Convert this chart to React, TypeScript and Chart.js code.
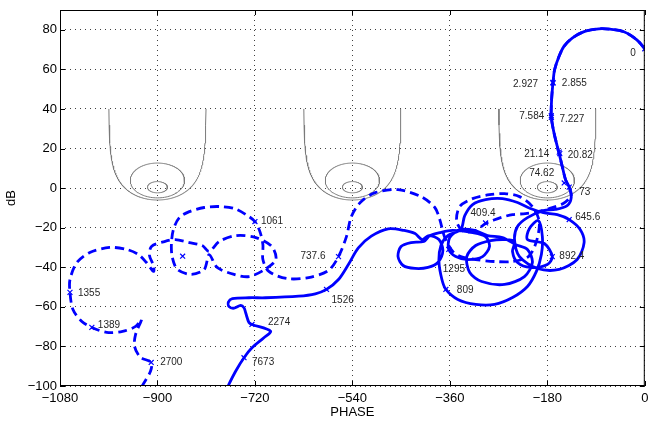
import { useEffect, useRef } from "react";
import { Chart, registerables } from "chart.js";

Chart.register(...registerables);

type P = [number, number];

// ---- axes ----
const phaseTicks = [-1080, -900, -720, -540, -360, -180, 0];
const gainTicks = [-100, -80, -60, -40, -20, 0, 20, 40, 60, 80];

// ---- Nichols grid (closed-loop magnitude contours) ----
const gridCentersDeg = [-900, -540, -180];
const closedLoopDb = [0, 2.3, 10];
const gridTopDb = 40;

// ---- low-frequency part shared by both responses (phase deg, gain dB) ----
const lowFrequencyPath: P[] = [
  [0, 70.4], [-14.7, 74.9], [-38.6, 79.0], [-64.3, 80.3], [-85.0, 80.5], [-112.1, 79.1],
  [-134.1, 75.8], [-149.3, 71.6], [-158.5, 66.5], [-166.6, 59.8], [-169.6, 53.1], [-172.1, 44.7],
  [-172.7, 36.2], [-167.7, 27.9], [-158.5, 17.8], [-152.5, 11.0], [-146.4, 4.3], [-139.6, 0.5],
];

// ---- solid response, after the shared part ----
const solidTail: P[] = [
  [-135.9, -4.8], [-143.3, -8.8], [-165.3, -10.8], [-187.4, -11.4], [-216.7, -14.9], [-235.1, -19.4],
  [-240.6, -26.0], [-231.4, -34.6], [-198.4, -40.6], [-158.0, -41.1], [-124.9, -36.1], [-112.1, -27.5],
  [-119.4, -20.9], [-139.6, -15.9], [-161.6, -13.4], [-187.4, -12.4], [-211.2, -10.3], [-235.1, -7.3],
  [-262.9, -5.3], [-294.1, -5.8], [-318.0, -8.3], [-332.5, -13.9], [-339.8, -20.9], [-363.7, -24.0],
  [-376.5, -29.0], [-380.2, -37.1], [-374.7, -46.2], [-367.4, -51.2], [-345.3, -56.3], [-312.3, -58.8],
  [-277.4, -58.8], [-244.3, -55.3], [-216.7, -49.7], [-200.2, -42.1], [-191.0, -33.6], [-189.2, -24.5],
  [-196.5, -16.4], [-213.0, -20.4], [-216.7, -26.0], [-185.5, -28.0], [-170.8, -34.6], [-180.0, -38.6],
  [-211.2, -40.1], [-235.1, -37.6], [-244.3, -32.0], [-240.6, -27.0], [-257.1, -26.0], [-284.7, -26.5],
  [-312.3, -29.0], [-328.8, -34.6], [-323.3, -42.6], [-301.3, -47.2], [-259.0, -48.7], [-222.3, -44.7],
  [-207.6, -37.6], [-216.7, -31.0], [-238.8, -28.5], [-262.9, -25.0], [-290.4, -24.0], [-314.3, -21.4],
  [-339.8, -20.9], [-360.2, -25.0], [-362.0, -31.0], [-349.2, -34.6], [-327.0, -36.1], [-299.6, -34.6],
  [-286.8, -29.5], [-294.1, -24.5], [-318.0, -22.5], [-354.7, -21.4], [-378.6, -22.5], [-396.9, -24.0],
  [-408.0, -27.0], [-431.8, -27.5], [-450.2, -29.5], [-455.7, -34.6], [-446.3, -39.1], [-424.3, -40.6],
  [-400.4, -40.1], [-382.1, -37.6], [-372.9, -31.5], [-380.2, -26.0], [-398.6, -24.0], [-411.4, -26.0],
  [-424.3, -23.0], [-444.5, -21.4], [-473.9, -20.6], [-505.1, -24.3], [-529.0, -30.2], [-547.4, -38.6],
  [-565.7, -46.2], [-587.8, -51.2], [-608.5, -53.4], [-639.2, -54.6], [-700.4, -55.4], [-731.0, -55.4],
  [-761.7, -55.9], [-769.0, -57.6], [-767.8, -59.9], [-758.6, -60.7], [-746.3, -59.3], [-740.2, -60.5],
  [-737.1, -63.0], [-731.0, -68.0], [-725.5, -68.9], [-691.2, -72.3], [-703.5, -75.6], [-725.0, -80.6],
  [-740.2, -85.7], [-755.4, -92.4], [-769.6, -100.0], [-775.0, -103.6],
];

// ---- dashed response, after the shared part ----
const dashedTail: P[] = [
  [-135.9, -3.8], [-150.6, -7.8], [-176.3, -10.3], [-198.4, -11.9], [-220.4, -12.9], [-244.3, -13.4],
  [-266.3, -14.9], [-281.0, -16.4], [-294.1, -17.9], [-312.3, -21.4], [-334.3, -22.0], [-347.4, -16.9],
  [-341.8, -9.3], [-318.0, -5.3], [-286.8, -3.3], [-259.0, -2.8], [-231.4, -4.3], [-207.6, -9.3],
  [-194.9, -16.9], [-200.2, -27.0], [-214.9, -34.6], [-244.3, -37.1], [-277.4, -37.1], [-312.3, -36.1],
  [-339.8, -34.6], [-354.7, -32.0], [-369.4, -25.0], [-378.6, -15.9], [-387.8, -9.8], [-413.3, -4.3],
  [-455.7, -0.8], [-497.8, -2.3], [-525.5, -7.3], [-542.0, -14.4], [-551.0, -24.5], [-565.7, -34.6],
  [-584.1, -41.6], [-620.8, -45.2], [-661.2, -45.7], [-694.3, -42.1], [-705.3, -36.1], [-705.3, -28.5],
  [-710.8, -22.0], [-720.0, -16.9], [-736.5, -13.4], [-758.6, -10.3], [-786.1, -9.3], [-813.7, -9.8],
  [-841.2, -11.9], [-859.6, -14.9], [-870.6, -20.9], [-874.3, -28.5], [-872.5, -35.1], [-863.3, -41.1],
  [-837.6, -43.6], [-813.7, -41.1], [-804.5, -33.6], [-789.8, -40.1], [-758.6, -43.6], [-731.0, -44.7],
  [-701.6, -41.1], [-681.4, -36.1], [-688.8, -29.5], [-718.2, -25.0], [-754.9, -24.0], [-786.1, -27.0],
  [-804.5, -32.0], [-817.3, -29.0], [-841.2, -27.5], [-866.9, -26.0], [-887.1, -27.0], [-911.0, -29.5],
  [-914.7, -34.1], [-907.3, -39.1], [-907.3, -42.1], [-920.4, -37.6], [-935.1, -33.6], [-956.9, -31.0],
  [-988.2, -30.0], [-1024.9, -32.5], [-1048.8, -37.6], [-1061.6, -46.2], [-1061.6, -52.7], [-1056.1, -61.3],
  [-1039.6, -67.4], [-1021.2, -70.4], [-993.7, -72.9], [-964.3, -72.4], [-940.4, -69.9], [-929.4, -66.4],
  [-940.4, -73.9], [-942.3, -80.0], [-931.4, -85.5], [-911.6, -88.1], [-912.9, -92.6], [-927.6, -99.7],
  [-933.0, -102.7],
];

// ---- frequency markers ----
const markerLabels = [
  "0", "2.927", "2.855", "7.584", "7.227", "21.14", "20.82", "74.62", "73",
  "409.4", "645.6", "892.4", "1295", "809", "1526", "2274", "7673",
  "737.6", "1061", "1355", "1389", "2700", "",
];
const markerPhase = [
  0, -169.4, -169.8, -172.7, -172.5, -158.0, -157.0, -148.8, -139.6,
  -294.1, -139.6, -170.8, -362.0, -367.4, -587.8, -725.5, -740.2,
  -565.7, -720.0, -1061.6, -1021.2, -911.6, -853.5,
];
const markerGain = [
  70.4, 53.1, 53.4, 36.6, 35.8, 18.2, 17.4, 2.6, 0.5,
  -17.6, -15.9, -34.6, -31.0, -51.2, -51.2, -68.9, -85.7,
  -34.6, -16.9, -52.7, -70.4, -88.1, -34.4,
];

// label placement relative to marker (style)
const labelPlacement: { dx: number; dy: number; align: CanvasTextAlign }[] = [
  { dx: -9, dy: 4, align: "right" },
  { dx: -15, dy: 1, align: "right" },
  { dx: 9, dy: 1, align: "left" },
  { dx: -7, dy: 1, align: "right" },
  { dx: 8, dy: 2, align: "left" },
  { dx: -10, dy: 2, align: "right" },
  { dx: 8, dy: 2, align: "left" },
  { dx: -10, dy: -10, align: "right" },
  { dx: 10, dy: 5, align: "left" },
  { dx: -15, dy: -10, align: "left" },
  { dx: 6, dy: -2, align: "left" },
  { dx: 7, dy: 0, align: "left" },
  { dx: -6, dy: 20, align: "left" },
  { dx: 11, dy: 1, align: "left" },
  { dx: 5, dy: 11, align: "left" },
  { dx: 16, dy: -2, align: "left" },
  { dx: 8, dy: 5, align: "left" },
  { dx: -13, dy: 0, align: "right" },
  { dx: 6, dy: 0, align: "left" },
  { dx: 8, dy: 1, align: "left" },
  { dx: 6, dy: -2, align: "left" },
  { dx: 9, dy: 0, align: "left" },
  { dx: 0, dy: 0, align: "left" },
];

const BLUE = "#0000ff";
const FONT = '"Liberation Sans", Arial, Helvetica, sans-serif';

function toXY(points: P[]) {
  return points.map(([x, y]) => ({ x, y }));
}

function nicholsContour(center: number, mDb: number) {
  const pts: { x: number; y: number }[] = [];
  const shift = center + 180;
  if (mDb === 0) {
    const sMax = (Math.acos(0.5 / Math.pow(10, gridTopDb / 20)) * 180) / Math.PI;
    const n = 400;
    for (let i = 0; i <= n; i++) {
      const s = -sMax + (2 * sMax * i) / n;
      const g = 20 * Math.log10(0.5 / Math.cos((s * Math.PI) / 180));
      pts.push({ x: -180 + s + shift, y: g });
    }
  } else {
    const M = Math.pow(10, mDb / 20);
    const c = (-M * M) / (M * M - 1);
    const r = M / (M * M - 1);
    for (let i = 0; i <= 360; i++) {
      const t = (i * Math.PI) / 180;
      const re = c + r * Math.cos(t);
      const im = r * Math.sin(t);
      let ph = (Math.atan2(im, re) * 180) / Math.PI;
      if (ph > 0) ph -= 360;
      pts.push({ x: ph + shift, y: 20 * Math.log10(Math.hypot(re, im)) });
    }
  }
  return pts;
}

function fmt(v: number) {
  return v < 0 ? "\u2212" + Math.abs(v) : String(v);
}

const framePlugin = {
  id: "frame",
  afterDraw(chart: any) {
    const { ctx, chartArea: a, scales } = chart;
    ctx.save();
    ctx.strokeStyle = "#000";
    ctx.lineWidth = 1;
    ctx.setLineDash([]);
    ctx.strokeRect(a.left + 0.5, a.top + 0.5, a.right - a.left - 1, a.bottom - a.top - 1);
    const L = 5;
    ctx.beginPath();
    phaseTicks.forEach((v) => {
      const x = Math.round(scales.x.getPixelForValue(v)) + 0.5;
      ctx.moveTo(x, a.bottom);
      ctx.lineTo(x, a.bottom - L);
      ctx.moveTo(x, a.top);
      ctx.lineTo(x, a.top + L);
    });
    gainTicks.forEach((v) => {
      const y = Math.round(scales.y.getPixelForValue(v)) + 0.5;
      ctx.moveTo(a.left, y);
      ctx.lineTo(a.left + L, y);
      ctx.moveTo(a.right, y);
      ctx.lineTo(a.right - L, y);
    });
    ctx.stroke();
    ctx.restore();
  },
};

const labelPlugin = {
  id: "freqLabels",
  afterDatasetsDraw(chart: any) {
    const { ctx, scales } = chart;
    ctx.save();
    ctx.font = `10px ${FONT}`;
    ctx.fillStyle = "#262626";
    ctx.textBaseline = "middle";
    markerLabels.forEach((txt, i) => {
      if (!txt) return;
      const p = labelPlacement[i];
      const x = scales.x.getPixelForValue(markerPhase[i]);
      const y = scales.y.getPixelForValue(markerGain[i]);
      ctx.textAlign = p.align;
      ctx.fillText(txt, x + p.dx, y + p.dy);
    });
    ctx.restore();
  },
};

export default function App() {
  const ref = useRef<HTMLCanvasElement | null>(null);

  useEffect(() => {
    const canvas = ref.current;
    if (!canvas) return;

    const gridSets: any[] = [];
    gridCentersDeg.forEach((c) => {
      closedLoopDb.forEach((m) => {
        gridSets.push({
          data: nicholsContour(c, m),
          showLine: true,
          borderColor: "#7a7a7a",
          borderWidth: 1,
          pointRadius: 0,
          tension: 0,
          order: 4,
        });
      });
    });

    const solid = {
      data: toXY([...lowFrequencyPath, ...solidTail]),
      showLine: true,
      borderColor: BLUE,
      borderWidth: 2.8,
      pointRadius: 0,
      tension: 0.3,
      order: 3,
    };
    const dashed = {
      data: toXY([...lowFrequencyPath, ...dashedTail]),
      showLine: true,
      borderColor: BLUE,
      borderWidth: 2.8,
      borderDash: [9, 5],
      pointRadius: 0,
      tension: 0.3,
      order: 2,
    };
    const markers = {
      data: markerPhase.map((x, i) => ({ x, y: markerGain[i] })),
      showLine: false,
      pointStyle: "crossRot",
      pointRadius: 3.5,
      pointBorderColor: BLUE,
      pointBorderWidth: 1.2,
      borderColor: BLUE,
      backgroundColor: BLUE,
      order: 1,
    };

    const gridOpts = {
      color: "rgba(0,0,0,0.75)",
      lineWidth: 1,
      drawTicks: false,
    };

    const chart = new Chart(canvas, {
      type: "scatter",
      data: { datasets: [...gridSets, solid, dashed, markers] as any },
      plugins: [labelPlugin, framePlugin],
      options: {
        animation: false,
        responsive: false,
        events: [],
        layout: { padding: { left: 0, right: 2, top: 10, bottom: 0 } },
        plugins: { legend: { display: false }, tooltip: { enabled: false } },
        scales: {
          x: {
            type: "linear",
            min: -1080,
            max: 0,
            afterBuildTicks: (s: any) => {
              s.ticks = phaseTicks.map((v) => ({ value: v }));
            },
            afterFit: (s: any) => {
              s.height = 35;
              s.paddingLeft = 0;
              s.paddingRight = 0;
            },
            grid: gridOpts,
            border: { display: false, dash: [1, 4] },
            ticks: {
              autoSkip: false,
              maxRotation: 0,
              padding: 5,
              color: "#000",
              font: { family: FONT, size: 13 },
              callback: (v: any) => fmt(Number(v)),
            },
            title: {
              display: true,
              text: "PHASE",
              color: "#000",
              font: { family: FONT, size: 13 },
              padding: { top: 0, bottom: 1 },
            },
          },
          y: {
            type: "linear",
            min: -100,
            max: 90,
            afterBuildTicks: (s: any) => {
              s.ticks = gainTicks.map((v) => ({ value: v }));
            },
            afterFit: (s: any) => {
              s.width = 60;
              s.paddingTop = 0;
              s.paddingBottom = 0;
            },
            grid: gridOpts,
            border: { display: false, dash: [1, 4] },
            ticks: {
              autoSkip: false,
              padding: 3,
              color: "#000",
              font: { family: FONT, size: 13 },
              callback: (v: any) => fmt(Number(v)),
            },
            title: {
              display: true,
              text: "dB",
              color: "#000",
              font: { family: FONT, size: 13 },
              padding: { top: 4, bottom: 0 },
            },
          },
        },
      } as any,
    });

    return () => chart.destroy();
  }, []);

  return (
    <canvas
      ref={ref}
      width={650}
      height={421}
      style={{ position: "fixed", left: 0, top: 0, width: 650, height: 421, background: "#fff" }}
    />
  );
}
